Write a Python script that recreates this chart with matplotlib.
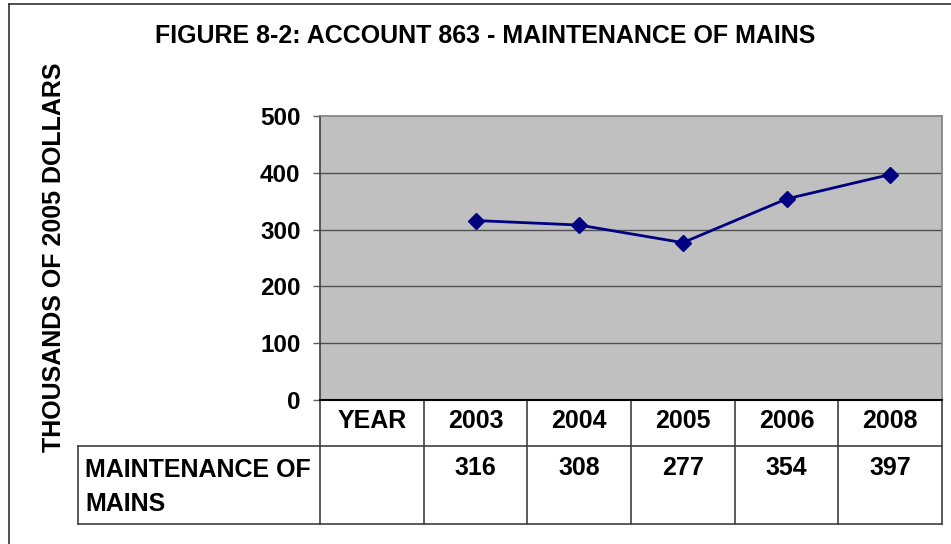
import matplotlib
matplotlib.use("Agg")
import matplotlib.pyplot as plt
import numpy as np
from matplotlib.lines import Line2D
import matplotlib.transforms as mtransforms

plt.rcParams['font.family'] = ['Liberation Sans', 'DejaVu Sans']

categories = ["YEAR", "2003", "2004", "2005", "2006", "2008"]
values = [np.nan, 316, 308, 277, 354, 397]
series_name = "MAINTENANCE OF\nMAINS"
table_values = ["", "316", "308", "277", "354", "397"]
yticks = [0, 100, 200, 300, 400, 500]

W, H = 951, 544
fig = plt.figure(figsize=(W/100, H/100), dpi=100)
fig.patch.set_facecolor("white")

L, R, T, B = 320, 942, 116, 400
ax = fig.add_axes([L/W, 1 - B/H, (R-L)/W, (B-T)/H])
ax.set_facecolor("#C0C0C0")

x = np.arange(len(categories))
ax.plot(x, values, color="#000080", lw=2, marker="D", ms=8, mec="#000080", mfc="#000080", zorder=3)

ax.set_xlim(-0.5, len(categories) - 0.5)
ax.set_ylim(0, 500)
ax.set_yticks(yticks)
ax.set_yticklabels([str(v) for v in yticks], fontsize=17.5, fontweight="bold")
ax.tick_params(axis="y", length=5, color="#606060", width=1, pad=9)
ax.set_xticks([])
for v in yticks[1:-1]:
    ax.axhline(v, color="#505050", lw=1, zorder=1)

ax.spines["top"].set_color("#808080")
ax.spines["right"].set_color("#808080")
ax.spines["left"].set_color("#404040")
ax.spines["bottom"].set_color("#000000")
ax.spines["bottom"].set_linewidth(1.5)
for s in ["top", "right", "left"]:
    ax.spines[s].set_linewidth(1.2)

ax.set_ylabel("THOUSANDS OF 2005 DOLLARS", fontsize=18, fontweight="bold", labelpad=0)
ax.yaxis.set_label_coords((66 - L) / (R - L), 0.5 - ((257 - (T + B) / 2) / (B - T)))

# data table
trans = mtransforms.blended_transform_factory(ax.transData, ax.transAxes)
h = B - T
y_hdr = -(446 - B) / h
y_bot = -(524 - B) / h
x_lbl = (78 - L) / (R - L)
lc = "#404040"
lk = dict(color=lc, lw=1.2, clip_on=False)
for i in range(len(categories) + 1):
    ax.plot([i - 0.5, i - 0.5], [0, y_bot], transform=trans, **lk)
ax.plot([-0.5, len(categories) - 0.5], [y_hdr, y_hdr], transform=trans, **lk)
ax.plot([-0.5, len(categories) - 0.5], [y_bot, y_bot], transform=trans, **lk)
ax.plot([x_lbl, 0], [y_hdr, y_hdr], transform=ax.transAxes, **lk)
ax.plot([x_lbl, 0], [y_bot, y_bot], transform=ax.transAxes, **lk)
ax.plot([x_lbl, x_lbl], [y_hdr, y_bot], transform=ax.transAxes, **lk)

for i, c in enumerate(categories):
    ax.text(i, -(421 - B) / h, c, transform=trans, ha="center", va="center",
            fontsize=18, fontweight="bold", clip_on=False)
    ax.text(i, -(468 - B) / h, table_values[i], transform=trans, ha="center", va="center",
            fontsize=18, fontweight="bold", clip_on=False)
ax.text((85 - L) / (R - L), -(487 - B) / h, series_name, transform=ax.transAxes,
        ha="left", va="center", fontsize=18, fontweight="bold", linespacing=1.5)

fig.text(485 / W, 1 - 36 / H, "FIGURE 8-2: ACCOUNT 863 - MAINTENANCE OF MAINS",
         ha="center", va="center", fontsize=18, fontweight="bold")

# outer border
fig.add_artist(Line2D([9 / W, 9 / W], [0, 1 - 4 / H], color="#303030", lw=1.2))
fig.add_artist(Line2D([9 / W, 1], [1 - 4 / H, 1 - 4 / H], color="#303030", lw=1.2))

fig.savefig("out.png", dpi=100)
